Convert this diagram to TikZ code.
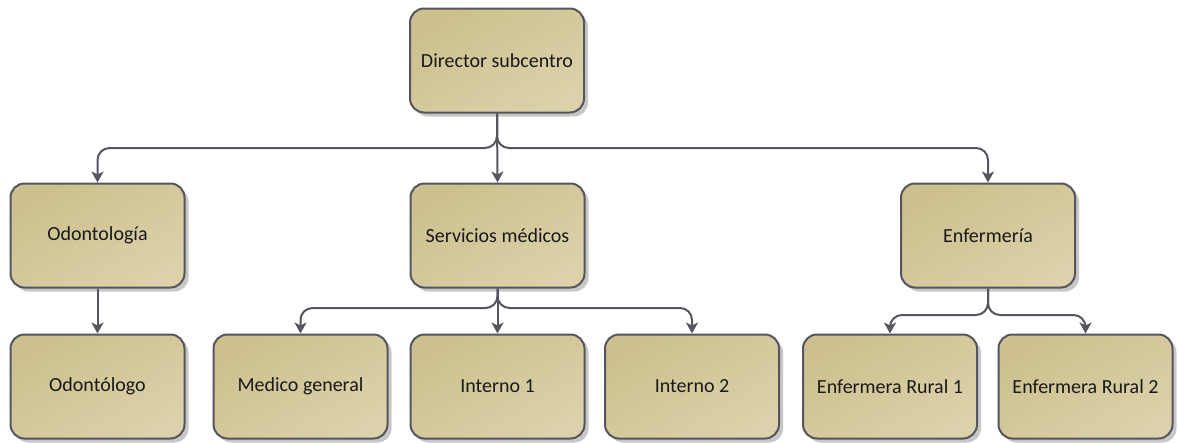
\documentclass[tikz,border=0pt]{standalone}
\usepackage{fontspec}
\setmainfont{Carlito}
\usetikzlibrary{arrows.meta,shadows}
\definecolor{tanA}{HTML}{CDC08E}
\definecolor{tanB}{HTML}{DBD1AA}
\definecolor{lineC}{HTML}{55555F}
\tikzset{
  box/.style={draw=lineC, line width=2pt, rounded corners=14pt,
    minimum width=174pt, minimum height=104pt, inner sep=0pt,
    left color=tanA, right color=tanB, shading angle=30,
    drop shadow={shadow xshift=4pt, shadow yshift=-4pt, fill=black!22, opacity=1},
    font=\fontsize{20}{23}\selectfont, text=black!90},
  conn/.style={draw=lineC, line width=2pt, rounded corners=12pt,
    -{Stealth[length=11pt,width=12pt,inset=3pt]}}
}
\begin{document}
\begin{tikzpicture}[x=1pt,y=-1pt]
\useasboundingbox (0,0) rectangle (1178,442);
\node[box] (D) at (497,60.5) {Director subcentro};
\node[box] (O1) at (97.5,235.5) {Odontología};
\node[box] (S) at (497.5,235.5) {Servicios médicos};
\node[box] (E) at (988,235.5) {Enfermería};
\node[box] (Oo) at (97.5,386.5) {Odontólogo};
\node[box] (MG) at (300.5,386.5) {Medico general};
\node[box] (I1) at (497.5,386.5) {Interno 1};
\node[box] (I2) at (692,386.5) {Interno 2};
\node[box] (E1) at (890,386.5) {Enfermera Rural 1};
\node[box] (E2) at (1085.5,386.5) {Enfermera Rural 2};
\draw[conn] (D.south) -- (D.south |- 0,148) -| (O1.north);
\draw[conn] (D.south) -- (S.north);
\draw[conn] (D.south) -- (D.south |- 0,148) -| (E.north);
\draw[conn] (O1.south) -- (Oo.north);
\draw[conn] (S.south) -- (S.south |- 0,308) -| (MG.north);
\draw[conn] (S.south) -- (I1.north);
\draw[conn] (S.south) -- (S.south |- 0,308) -| (I2.north);
\draw[conn] (E.south) -- (E.south |- 0,315) -| (E1.north);
\draw[conn] (E.south) -- (E.south |- 0,315) -| (E2.north);
\end{tikzpicture}
\end{document}
